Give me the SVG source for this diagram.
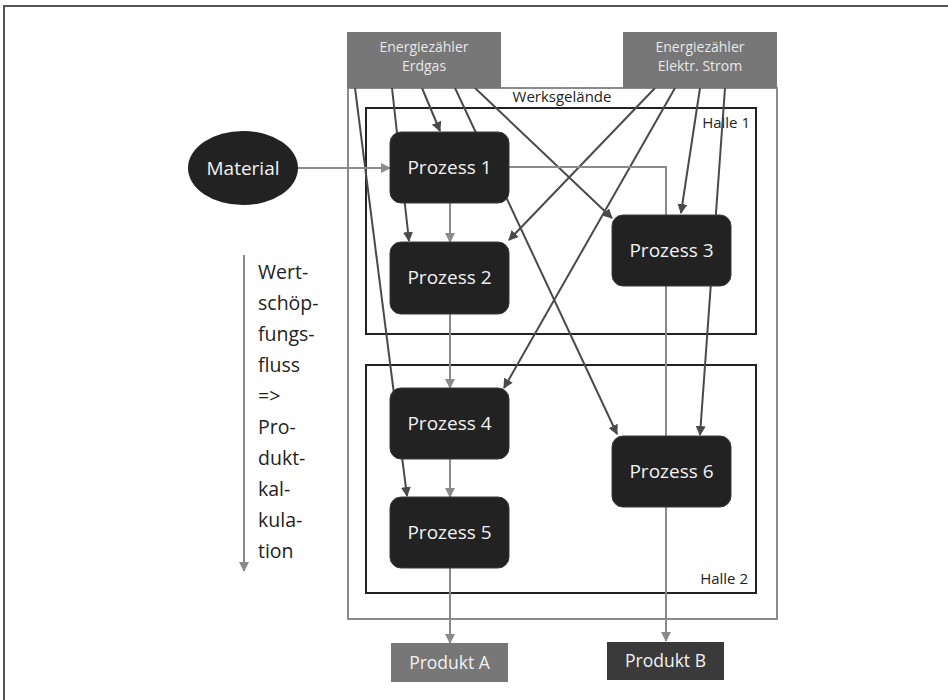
<svg xmlns="http://www.w3.org/2000/svg" width="948" height="700" viewBox="0 0 948 700">
<defs>
<marker id="ad" viewBox="0 0 10 10" refX="9" refY="5" markerWidth="10" markerHeight="10" markerUnits="userSpaceOnUse" orient="auto"><path d="M0,0 L10,5 L0,10 Z" fill="#4a4a4a"/></marker>
<marker id="ag" viewBox="0 0 10 10" refX="9" refY="5" markerWidth="10" markerHeight="10" markerUnits="userSpaceOnUse" orient="auto"><path d="M0,0 L10,5 L0,10 Z" fill="#8a8a8a"/></marker>
</defs>
<style>
text{font-family:"Open Sans",Lato,"Liberation Sans",sans-serif}
.frame{fill:none;stroke:#555;stroke-width:2}
.werk{fill:none;stroke:#8a8a8a;stroke-width:2}
.halle{fill:none;stroke:#222;stroke-width:2}
.dk{fill:none;stroke:#4a4a4a;stroke-width:2;marker-end:url(#ad)}
.gr{fill:none;stroke:#8a8a8a;stroke-width:2;marker-end:url(#ag)}
.proc{fill:#222;stroke:#3a3a3a;stroke-width:1}
.pt{fill:#f2f2f2;font-size:19px;text-anchor:middle}
.mt{fill:#e8e8e8;font-size:14px;text-anchor:middle}
.lbl{fill:#222;font-size:15px}
.flow{fill:#222;font-size:19.5px}
</style>
<rect width="948" height="700" fill="#fff"/>
<path class="frame" d="M4,700 V6 H948"/>
<g id="werksgelaende">
<path class="werk" d="M348,88 V619 H777 V88 Z"/>
<text class="lbl" x="562" y="102" text-anchor="middle">Werksgelände</text>
</g>
<g id="halle1">
<rect class="halle" x="366" y="108" width="390" height="226"/>
<text class="lbl" x="750" y="128" text-anchor="end">Halle 1</text>
</g>
<g id="halle2">
<rect class="halle" x="366" y="365" width="390" height="228"/>
<text class="lbl" x="748" y="584" text-anchor="end">Halle 2</text>
</g>
<g id="connectors">
<line class="dk" x1="355" y1="88" x2="407" y2="496"/>
<line class="dk" x1="392" y1="88" x2="409" y2="241"/>
<line class="dk" x1="422" y1="88" x2="440" y2="131"/>
<line class="dk" x1="455" y1="88" x2="617" y2="434"/>
<line class="dk" x1="475" y1="88" x2="612" y2="218"/>
<line class="dk" x1="655" y1="88" x2="509" y2="240"/>
<line class="dk" x1="675" y1="88" x2="504" y2="388"/>
<line class="dk" x1="700" y1="88" x2="681" y2="213"/>
<line class="dk" x1="725" y1="88" x2="700" y2="435"/>
<line class="gr" x1="298" y1="168" x2="390" y2="168"/>
<line class="gr" x1="450" y1="203" x2="450" y2="242"/>
<line class="gr" x1="450" y1="314" x2="450" y2="388"/>
<line class="gr" x1="450" y1="459" x2="450" y2="497"/>
<line class="gr" x1="450" y1="568" x2="450" y2="643"/>
<path class="gr" d="M509,167 H666 V641"/>
<line class="gr" x1="244" y1="255" x2="244" y2="571"/>
</g>
<g id="zaehler-erdgas">
<rect x="347" y="32" width="154" height="56" fill="#777"/>
<text class="mt" x="424" y="52">Energiezähler</text>
<text class="mt" x="424" y="71">Erdgas</text>
</g>
<g id="zaehler-strom">
<rect x="623" y="32" width="154" height="56" fill="#777"/>
<text class="mt" x="700" y="52">Energiezähler</text>
<text class="mt" x="700" y="71">Elektr. Strom</text>
</g>
<g id="material">
<ellipse cx="243" cy="168" rx="55" ry="37" fill="#222"/>
<text class="pt" x="243" y="175">Material</text>
</g>
<g id="prozess1">
<rect class="proc" x="390" y="132" width="119" height="71" rx="11"/>
<text class="pt" x="449.5" y="174">Prozess 1</text>
</g>
<g id="prozess2">
<rect class="proc" x="390" y="242" width="119" height="72" rx="11"/>
<text class="pt" x="449.5" y="284">Prozess 2</text>
</g>
<g id="prozess3">
<rect class="proc" x="612" y="215" width="119" height="71" rx="11"/>
<text class="pt" x="671.5" y="257">Prozess 3</text>
</g>
<g id="prozess4">
<rect class="proc" x="390" y="388" width="119" height="71" rx="11"/>
<text class="pt" x="449.5" y="430">Prozess 4</text>
</g>
<g id="prozess5">
<rect class="proc" x="390" y="497" width="119" height="71" rx="11"/>
<text class="pt" x="449.5" y="539">Prozess 5</text>
</g>
<g id="prozess6">
<rect class="proc" x="612" y="436" width="119" height="71" rx="11"/>
<text class="pt" x="671.5" y="478">Prozess 6</text>
</g>
<g id="produktA">
<rect x="391" y="643" width="117" height="39" fill="#777"/>
<text class="pt" x="449.5" y="669" style="font-size:17.5px">Produkt A</text>
</g>
<g id="produktB">
<rect x="607" y="642" width="117" height="38" fill="#3a3a3a"/>
<text class="pt" x="665.5" y="667" style="font-size:17.5px">Produkt B</text>
</g>
<g id="wertschoepfung">
<text class="flow" x="258" y="279">Wert-</text>
<text class="flow" x="258" y="310">schöp-</text>
<text class="flow" x="258" y="341">fungs-</text>
<text class="flow" x="258" y="372">fluss</text>
<text class="flow" x="258" y="403">=&gt;</text>
<text class="flow" x="258" y="434">Pro-</text>
<text class="flow" x="258" y="465">dukt-</text>
<text class="flow" x="258" y="496">kal-</text>
<text class="flow" x="258" y="527">kula-</text>
<text class="flow" x="258" y="558">tion</text>
</g>
</svg>
